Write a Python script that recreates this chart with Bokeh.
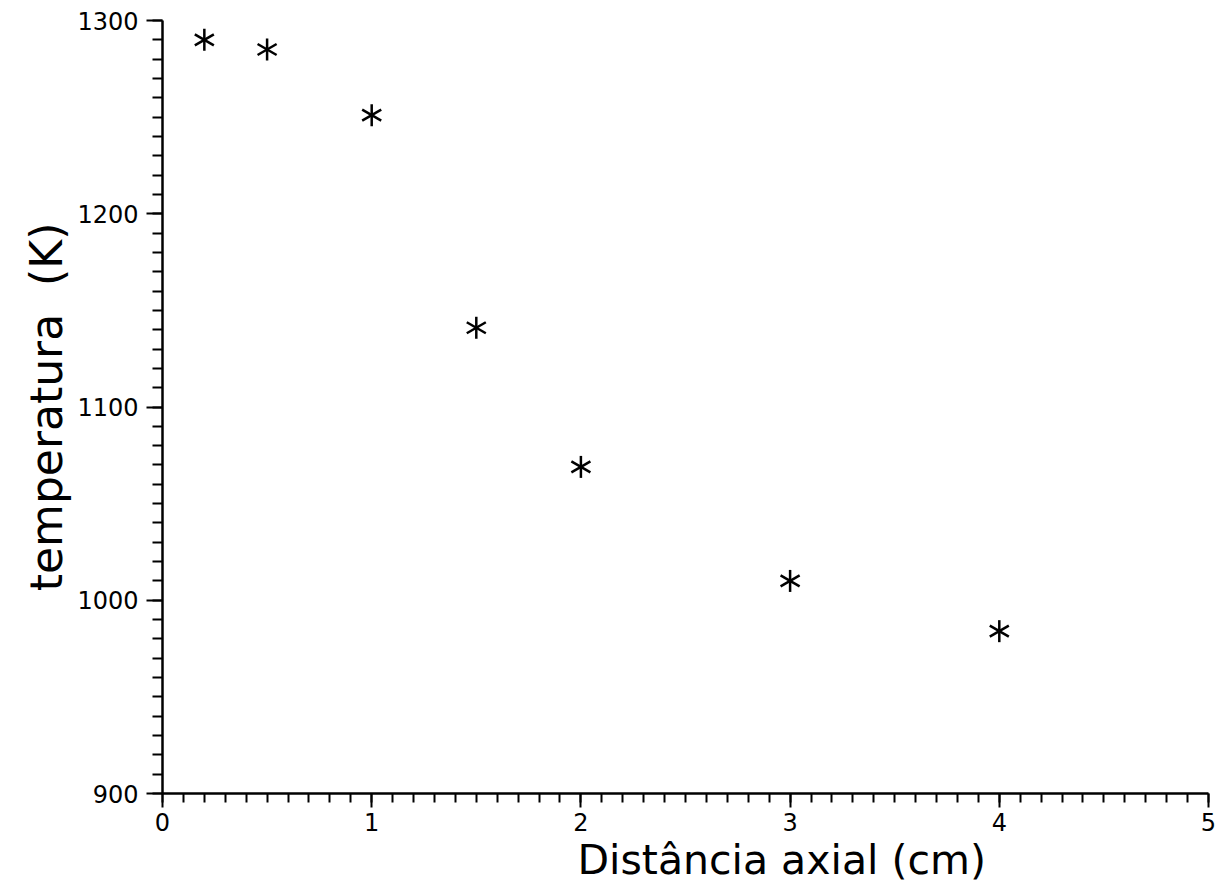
import math
import numpy as np
from bokeh.plotting import figure
from bokeh.models import Range1d, FixedTicker, Title
from bokeh.embed import file_html
from bokeh.resources import INLINE

# Data
distancia = [0.2, 0.5, 1.0, 1.5, 2.0, 3.0, 4.0]
temperatura = [1290, 1285, 1251, 1141, 1069, 1010, 984]

x_ticks = [0, 1, 2, 3, 4, 5]
y_ticks = [900, 1000, 1100, 1200, 1300]
x_label = "Distância axial (cm)"
y_label = "temperatura \u00a0(K)"

FONT = "DejaVu Sans"

p = figure(
    frame_width=1046, frame_height=773,
    min_border_left=162, min_border_right=23,
    min_border_top=20, min_border_bottom=97,
    x_range=Range1d(0, 5), y_range=Range1d(900, 1300),
    output_backend="svg", toolbar_location=None,
    background_fill_color="white", border_fill_color="white",
)
p.outline_line_color = None
p.xgrid.visible = False
p.ygrid.visible = False

x_minor = [round(v, 2) for v in np.arange(0, 5.001, 0.1)]
y_minor = [round(v, 1) for v in np.arange(900, 1300.1, 10)]
p.xaxis.ticker = FixedTicker(ticks=x_ticks, minor_ticks=x_minor)
p.yaxis.ticker = FixedTicker(ticks=y_ticks, minor_ticks=y_minor)

for ax in (p.xaxis, p.yaxis):
    ax.axis_line_color = "black"
    ax.axis_line_width = 2.5
    ax.major_tick_line_color = "black"
    ax.minor_tick_line_color = "black"
    ax.major_tick_line_width = 2
    ax.minor_tick_line_width = 2
    ax.major_tick_in = 0
    ax.minor_tick_in = 0
    ax.major_label_text_font = FONT
    ax.major_label_text_font_size = "24px"
    ax.major_label_text_color = "black"

p.xaxis.major_tick_out = 14
p.xaxis.minor_tick_out = 9
p.xaxis.major_label_standoff = 5
p.yaxis.major_tick_out = 16
p.yaxis.minor_tick_out = 10
p.yaxis.major_label_standoff = 8

p.yaxis.axis_label = y_label
p.yaxis.axis_label_text_font = FONT
p.yaxis.axis_label_text_font_style = "normal"
p.yaxis.axis_label_text_font_size = "44px"
p.yaxis.axis_label_text_color = "black"
p.yaxis.axis_label_standoff = 2

# six-armed asterisk markers built from rotated dashes
for ang in (math.pi / 2, math.pi / 6, -math.pi / 6):
    p.scatter(distancia, temperatura, marker="dash", size=22, angle=ang,
              line_color="black", line_width=2.5)

p.add_layout(Title(text=x_label, align="left", offset=415,
                   text_font=FONT, text_font_size="41px",
                   text_font_style="normal", text_color="black",
                   standoff=0), "below")

open("out.html", "w").write(file_html(p, INLINE))
